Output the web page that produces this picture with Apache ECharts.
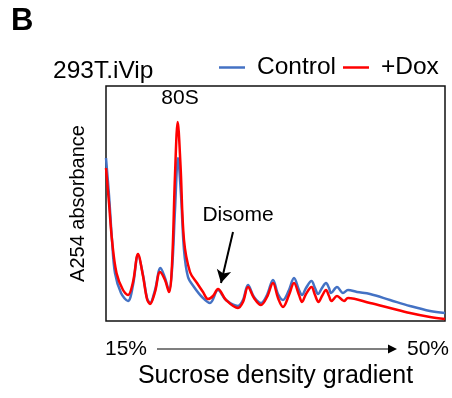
<!DOCTYPE html>
<html>
<head>
<meta charset="utf-8">
<script src="https://cdn.jsdelivr.net/npm/echarts@6/dist/echarts.min.js"></script>
<style>
  html, body { margin: 0; padding: 0; background: #fff; }
  #chart { width: 452px; height: 398px; }
</style>
</head>
<body>
<div id="chart"></div>
<script>
// position along the gradient (arbitrary units) and A254 absorbance (arbitrary units)
const posControl = [0, 3, 6, 9, 15, 22, 27, 32, 37, 41, 44, 49, 54.5, 59, 63, 66, 69, 72, 75, 78, 82, 88, 96, 104, 112, 120, 132, 137, 142, 148, 155, 161, 167, 172, 177, 183, 188, 193, 196, 200, 205.5, 209, 212, 216, 220, 223, 225, 231, 237, 242, 251, 264, 284, 304, 324, 339];
const absControl = [163, 126, 81, 48, 28, 20, 36, 66, 46, 23, 18, 31, 53, 43, 31, 51, 111, 163, 126, 71, 44, 34, 24, 18, 31, 21, 15, 21, 36, 24, 18, 26, 41, 27, 21, 31, 43, 31, 26, 33, 40, 33, 27, 33, 38, 33, 28, 34, 28, 31, 29, 27, 21, 15, 10, 8];

const posDox = [0, 3, 6, 10.5, 17, 22, 27, 32, 37, 41, 44, 49, 54, 59, 63, 66, 69, 71.7, 74.5, 78, 84, 91, 97, 102, 107, 112, 120, 132, 137, 142, 148, 155, 161, 167, 172, 177, 183, 188, 193, 196, 200, 205.5, 209, 212.5, 216, 220, 223, 225.5, 231, 238, 242, 264, 284, 304, 324, 339];
const absDox = [153, 118, 81, 48, 31, 26, 39, 67, 45, 22, 17, 29, 49, 41, 29, 56, 146, 199, 156, 81, 49, 38, 29, 22, 25, 32, 21, 13, 19, 34, 23, 16, 24, 38, 23, 14, 26, 38, 26, 19, 27, 34, 26, 19, 25, 31, 25, 20, 25, 20, 23, 18, 13, 8, 4, 2];

const seriesNames = ['Control', '+Dox'];
const seriesColors = ['#4472C4', '#FF0000'];
const disomeArrow = [[127, 89], [115, 38]];

const FONT = '"Liberation Sans", Arial, sans-serif';
const zip = (xs, ys) => xs.map((x, i) => [x, ys[i]]);

const chart = echarts.init(document.getElementById('chart'));

chart.setOption({
  animation: false,
  grid: {
    left: 106, top: 86, width: 339, height: 235,
    outerBoundsMode: 'none',
    show: true, borderColor: '#111', borderWidth: 1.5, backgroundColor: 'transparent'
  },
  legend: {
    left: 214, top: 50,
    icon: 'rect', itemWidth: 26, itemHeight: 2.5, itemGap: 7,
    textStyle: { fontFamily: FONT, fontSize: 24.5, color: '#000', padding: [0, 0, 0, 7] },
    data: seriesNames
  },
  xAxis: {
    type: 'value', min: 0, max: 339,
    axisLine: { show: false }, axisTick: { show: false },
    axisLabel: { show: false }, splitLine: { show: false },
    name: 'Sucrose density gradient',
    nameLocation: 'middle', nameGap: 43,
    nameTextStyle: { fontFamily: FONT, fontSize: 25, color: '#000' }
  },
  yAxis: {
    type: 'value', min: 0, max: 235,
    axisLine: { show: false }, axisTick: { show: false },
    axisLabel: { show: false }, splitLine: { show: false },
    name: 'A254 absorbance',
    nameLocation: 'middle', nameGap: 18, nameRotate: 90,
    nameTextStyle: { fontFamily: FONT, fontSize: 20, color: '#000' }
  },
  series: [
    {
      name: seriesNames[0], type: 'line', data: zip(posControl, absControl),
      showSymbol: false, smooth: 0.35,
      lineStyle: { width: 2.5, color: seriesColors[0] }, itemStyle: { color: seriesColors[0] }
    },
    {
      name: seriesNames[1], type: 'line', data: zip(posDox, absDox),
      showSymbol: false, smooth: 0.35,
      lineStyle: { width: 2.5, color: seriesColors[1] }, itemStyle: { color: seriesColors[1] },
      markLine: {
        silent: true, symbol: ['none', 'arrow'], symbolSize: [11, 13],
        label: { show: false },
        lineStyle: { color: '#000', width: 2, type: 'solid' },
        data: [[{ coord: disomeArrow[0] }, { coord: disomeArrow[1] }]]
      }
    }
  ],
  graphic: [
    { type: 'text', x: 11, y: 21, style: { text: 'B', font: 'bold 31px ' + FONT, fill: '#000', verticalAlign: 'middle' } },
    { type: 'text', x: 53, y: 71.5, style: { text: '293T.iVip', font: '24.5px ' + FONT, fill: '#000', verticalAlign: 'middle' } },
    { type: 'text', x: 180, y: 98, style: { text: '80S', font: '21px ' + FONT, fill: '#000', align: 'center', verticalAlign: 'middle' } },
    { type: 'text', x: 238, y: 215, style: { text: 'Disome', font: '21px ' + FONT, fill: '#000', align: 'center', verticalAlign: 'middle' } },
    { type: 'text', x: 105, y: 349, style: { text: '15%', font: '21px ' + FONT, fill: '#000', align: 'left', verticalAlign: 'middle' } },
    { type: 'text', x: 407, y: 349, style: { text: '50%', font: '21px ' + FONT, fill: '#000', align: 'left', verticalAlign: 'middle' } },
    { type: 'line', shape: { x1: 157, y1: 349, x2: 390, y2: 349 }, style: { stroke: '#555', lineWidth: 1.5 } },
    { type: 'polygon', shape: { points: [[388, 344.5], [397, 349], [388, 353.5]] }, style: { fill: '#000' } }
  ]
});
</script>
</body>
</html>
